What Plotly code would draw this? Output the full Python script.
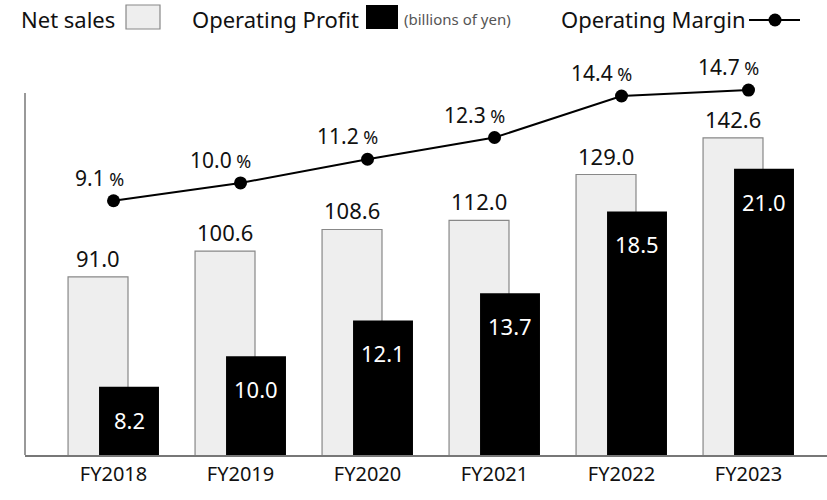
import plotly.graph_objects as go

categories = ["FY2018", "FY2019", "FY2020", "FY2021", "FY2022", "FY2023"]
net_sales = [91.0, 100.6, 108.6, 112.0, 129.0, 142.6]
op_profit = [8.2, 10.0, 12.1, 13.7, 18.5, 21.0]
op_margin = [9.1, 10.0, 11.2, 12.3, 14.4, 14.7]

FONT = "Noto Sans"
idx = list(range(len(categories)))
off = 0.122
bw = 0.472

# body margin is removed by post_script, so the figure fills the 827x500 window
O = 0
W, H = 827, 500
L, R, T, B = 25, 0, 60, 45
PW, PH = W - L - R, H - T - B

def px(xp):  # window pixel -> paper x
    return (xp - O - L) / PW

def py(yp):  # window pixel -> paper y
    return (H - B - (yp - O)) / PH

fig = go.Figure()
fig.add_trace(go.Bar(
    x=[i - off for i in idx], y=net_sales, width=bw, yaxis="y",
    marker=dict(color="#eeeeee", line=dict(color="#888888", width=1.2)),
    hoverinfo="skip", showlegend=False))
fig.add_trace(go.Bar(
    x=[i + off for i in idx], y=op_profit, width=bw, yaxis="y2",
    marker=dict(color="#000000", line=dict(width=0)),
    hoverinfo="skip", showlegend=False))
fig.add_trace(go.Scatter(
    x=idx, y=op_margin, yaxis="y3", mode="lines+markers",
    line=dict(color="#000000", width=2),
    marker=dict(size=13, color="#000000"),
    hoverinfo="skip", showlegend=False, cliponaxis=False))

ann = []
for i, v in enumerate(net_sales):
    ann.append(dict(x=i - off, y=v, xref="x", yref="y", text=f"{v:.1f}",
                    showarrow=False, yanchor="middle", yshift=19,
                    font=dict(family=FONT, size=22, color="#111111")))
for i, v in enumerate(op_profit):
    ann.append(dict(x=i + off, y=v, xref="x", yref="y2", text=f"{v:.1f}",
                    showarrow=False, yanchor="middle", yshift=-33,
                    font=dict(family=FONT, size=22, color="#ffffff")))
for i, v in enumerate(op_margin):
    ann.append(dict(x=i, y=v, xref="x", yref="y3",
                    text=f"{v:.1f}<span style='font-size:18px'> %</span>",
                    showarrow=False, yanchor="middle", xanchor="right",
                    xshift=12, yshift=23,
                    font=dict(family=FONT, size=21, color="#111111")))

hdr = [
    (19, "Net sales", 22, "#111111"),
    (190, "Operating Profit", 22, "#111111"),
    (402, "(billions of yen)", 15, "#555555"),
    (559, "Operating Margin", 22, "#111111"),
]
for x0, t, s, c in hdr:
    ann.append(dict(x=px(x0), y=py(19), xref="paper", yref="paper", text=t, showarrow=False,
                    xanchor="left", yanchor="middle", font=dict(family=FONT, size=s, color=c)))

shapes = [
    dict(type="rect", xref="paper", yref="paper", x0=px(126), x1=px(160), y0=py(29), y1=py(5),
         fillcolor="#eeeeee", line=dict(color="#888888", width=1.2)),
    dict(type="rect", xref="paper", yref="paper", x0=px(366), x1=px(398), y0=py(29), y1=py(5),
         fillcolor="#000000", line=dict(width=0)),
    dict(type="line", xref="paper", yref="paper", x0=px(749), x1=px(800), y0=py(20), y1=py(20),
         line=dict(color="#000000", width=2)),
    dict(type="circle", xref="paper", yref="paper", x0=px(768.5), x1=px(781.5),
         y0=py(26.5), y1=py(13.5), fillcolor="#000000", line=dict(width=0)),
    # left axis line
    dict(type="line", xref="paper", yref="paper", x0=px(25), x1=px(25), y0=py(455), y1=py(93),
         line=dict(color="#777777", width=1.5)),
]

fig.update_layout(
    width=W, height=H, margin=dict(l=L, r=R, t=T, b=B),
    paper_bgcolor="white", plot_bgcolor="white",
    barmode="overlay", annotations=ann, shapes=shapes,
    font=dict(family=FONT, color="#111111"),
    xaxis=dict(range=[-0.697, 5.618], tickmode="array", tickvals=idx, ticktext=categories,
               showgrid=False, zeroline=False, showline=True, linecolor="#777777", linewidth=1.5,
               ticks="", tickfont=dict(family=FONT, size=20, color="#111111")),
    yaxis=dict(range=[24.9, 171.5], showgrid=False, zeroline=False, showticklabels=False,
               showline=False, ticks=""),
    yaxis2=dict(range=[4.2, 27.39], overlaying="y", showgrid=False, zeroline=False,
                showticklabels=False, showline=False, ticks=""),
    yaxis3=dict(range=[-3.76, 16.22], overlaying="y", showgrid=False, zeroline=False,
                showticklabels=False, showline=False, ticks=""),
)

fig.write_html("out.html", config={"displayModeBar": False, "staticPlot": True},
               post_script="document.body.style.margin='0';document.body.style.overflow='hidden';")
